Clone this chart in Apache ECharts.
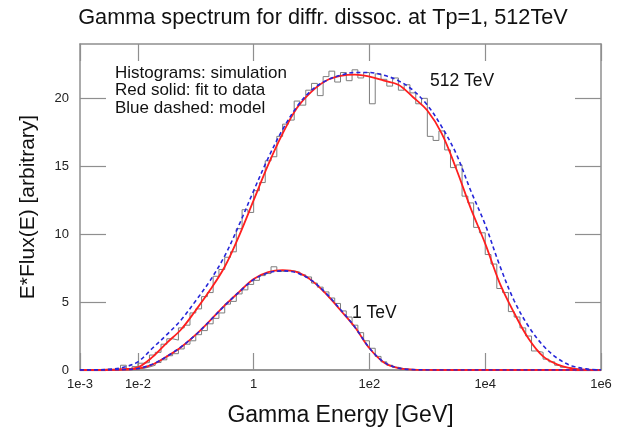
<!DOCTYPE html>
<html>
<head>
<meta charset="utf-8">
<script src="https://cdn.jsdelivr.net/npm/echarts@6/dist/echarts.min.js"></script>
<style>
  html, body { margin: 0; padding: 0; background: #fff; }
  #chart { width: 618px; height: 427px; }
</style>
</head>
<body>
<div id="chart"></div>
<script>
// Smooth curves sampled on a log10(E / GeV) grid
const curveExp = [-3, -2.75, -2.5, -2.25, -2, -1.75, -1.5, -1.25, -1, -0.75, -0.5, -0.25,
  0, 0.25, 0.5, 0.75, 1, 1.25, 1.5, 1.75, 2, 2.25, 2.5, 2.75,
  3, 3.25, 3.5, 3.75, 4, 4.25, 4.5, 4.75, 5, 5.25, 5.5, 5.75, 6];

// Tp = 512 TeV
const fit512 = [0, 0, 0.02, 0.06, 0.2, 0.95, 2.0, 3.0, 4.4, 5.9, 7.6, 9.9,
  12.5, 15.1, 17.4, 19.3, 20.5, 21.3, 21.65, 21.75, 21.6, 21.3, 21.0, 20.1,
  19.1, 17.4, 14.8, 11.9, 9.3, 6.4, 4.2, 2.3, 1.0, 0.4, 0.12, 0.02, 0];
const model512 = [0, 0.01, 0.05, 0.2, 0.6, 1.6, 2.6, 3.7, 5.1, 6.6, 8.4, 10.7,
  13.2, 15.6, 17.7, 19.4, 20.6, 21.3, 21.7, 21.9, 21.9, 21.7, 21.3, 20.6,
  19.5, 17.9, 15.9, 13.2, 10.7, 7.7, 5.1, 3.2, 1.8, 0.85, 0.3, 0.08, 0.01];

// Tp = 1 TeV
const fit1 = [0, 0, 0.01, 0.03, 0.1, 0.4, 1.0, 1.7, 2.6, 3.65, 4.75, 5.75,
  6.7, 7.2, 7.35, 7.2, 6.6, 5.6, 4.4, 3.15, 1.6, 0.55, 0.13, 0.03,
  0.005, 0, 0, 0, 0, 0, 0, 0, 0, 0, 0, 0, 0];
const model1 = [0, 0, 0.01, 0.03, 0.11, 0.42, 1.0, 1.72, 2.6, 3.65, 4.75, 5.75,
  6.65, 7.15, 7.3, 7.15, 6.6, 5.65, 4.45, 3.15, 1.62, 0.58, 0.14, 0.03,
  0.005, 0, 0, 0, 0, 0, 0, 0, 0, 0, 0, 0, 0];

// Simulated histograms: bins of 0.1 in log10(E), first bin starts at 1e-3 GeV
const histStartExp = -3;
const histBinExp = 0.1;
const sim512 = [
  0, 0, 0, 0.03, 0.05, 0.02, 0.06, 0.35, 0.1, 0.25,
  0.5, 0.55, 1.1, 1.3, 1.9, 2.3, 2.2, 3.1, 3.3, 4.2,
  4.5, 5.4, 5.7, 6.9, 7.4, 8.3, 8.7, 10.4, 11.8, 11.6,
  13.2, 13.8, 15.4, 15.7, 17.2, 18.1, 18.4, 19.8, 19.5, 20.6,
  21.1, 20.2, 21.6, 22.0, 21.2, 21.9, 21.3, 22.1, 21.5, 21.9,
  19.6, 21.8, 21.4, 20.9, 21.5, 20.6, 21.0, 20.4, 19.6, 20.0,
  17.2, 16.9, 17.6, 16.2, 14.9, 15.1, 12.8, 12.3, 10.5, 10.1,
  8.5, 7.8, 6.0, 5.7, 4.3, 3.9, 3.1, 2.5, 1.4, 1.3,
  0.8, 0.6, 0.35, 0.2, 0.15, 0.05, 0.03, 0, 0, 0];
const sim1 = [
  0, 0, 0, 0, 0, 0.02, 0.02, 0.03, 0.05, 0.07,
  0.12, 0.22, 0.35, 0.55, 0.75, 1.05, 1.2, 1.55, 1.9, 2.15,
  2.6, 2.9, 3.4, 3.8, 4.2, 4.85, 5.05, 5.6, 5.9, 6.3,
  6.6, 6.95, 7.1, 7.6, 7.25, 7.3, 7.3, 7.2, 7.0, 6.85,
  6.4, 6.1, 5.75, 5.3, 4.9, 4.35, 3.9, 3.3, 2.75, 2.15,
  1.6, 1.0, 0.6, 0.35, 0.2, 0.1, 0.05, 0.02, 0, 0,
  0, 0, 0, 0, 0, 0, 0, 0, 0, 0,
  0, 0, 0, 0, 0, 0, 0, 0, 0, 0,
  0, 0, 0, 0, 0, 0, 0, 0, 0, 0];

// Energy axis: decade exponents that carry a tick, and the plotted range
const xTickExp = [-3, -2, 0, 2, 4, 6];
const xMinExp = -3;
const xMaxExp = 6;
const yTickValues = [0, 5, 10, 15, 20];

const FONT = "'Liberation Sans', Arial, Helvetica, sans-serif";
const AXIS_GRAY = '#8f8f8f';
const HIST_GRAY = '#7d7d7d';
const RED = '#ff1f1f';
const BLUE = '#2626d9';

const toE = e => Math.pow(10, e);
const curvePoints = vals => curveExp.map((e, i) => [toE(e), vals[i]]);
const histPoints = vals => {
  const pts = vals.map((v, i) => [toE(histStartExp + i * histBinExp), v]);
  pts.push([toE(histStartExp + vals.length * histBinExp), vals[vals.length - 1]]);
  return pts;
};

// Log energy axis used by the series (line and name only)
const xLog = {
  type: 'log', logBase: 10, min: toE(xMinExp), max: toE(xMaxExp), position: 'bottom',
  axisLine: { show: true, onZero: false, lineStyle: { color: AXIS_GRAY, width: 1.5 } },
  axisTick: { show: false }, axisLabel: { show: false },
  splitLine: { show: false }, minorTick: { show: false },
  name: 'Gamma Energy [GeV]', nameLocation: 'middle', nameGap: 34,
  nameTextStyle: { fontSize: 23, color: '#111', fontFamily: FONT }
};
// Decade tick rulers laid over the same span, in exponent units
function decadeAxis(position, showLabels) {
  return {
    type: 'value', min: xMinExp, max: xMaxExp, position,
    axisLine: { show: true, onZero: false, lineStyle: { color: AXIS_GRAY, width: 1.5 } },
    axisTick: { show: true, inside: true, length: 17, customValues: xTickExp,
      lineStyle: { color: AXIS_GRAY, width: 1.2 } },
    axisLabel: { show: showLabels, customValues: xTickExp,
      formatter: n => (n === 0 ? '1' : '1e' + n),
      color: '#222', fontSize: 13, fontFamily: FONT, margin: 8 },
    splitLine: { show: false }
  };
}
function yAxisDef(position, showLabels) {
  return {
    type: 'value', min: 0, max: 24, position,
    axisLine: { show: true, onZero: false, lineStyle: { color: AXIS_GRAY, width: 1.5 } },
    axisTick: { show: true, inside: true, length: 26, customValues: yTickValues,
      lineStyle: { color: AXIS_GRAY, width: 1.2 } },
    axisLabel: { show: showLabels, customValues: yTickValues,
      color: '#222', fontSize: 13, fontFamily: FONT, margin: 11 },
    splitLine: { show: false }
  };
}

const yLeft = yAxisDef('left', true);
yLeft.name = 'E*Flux(E) [arbitrary]';
yLeft.nameLocation = 'middle';
yLeft.nameGap = 41;
yLeft.nameTextStyle = { fontSize: 21, color: '#111', fontFamily: FONT };

const lineBase = { type: 'line', xAxisIndex: 0, yAxisIndex: 0, showSymbol: false,
  symbol: 'none', silent: true, animation: false };

const option = {
  animation: false,
  backgroundColor: '#fff',
  textStyle: { fontFamily: FONT },
  grid: { left: 80, right: 17, top: 44, bottom: 57, containLabel: false, outerBoundsMode: 'none' },
  xAxis: [xLog, decadeAxis('bottom', true), decadeAxis('top', false)],
  yAxis: [yLeft, yAxisDef('right', false)],
  series: [
    Object.assign({}, lineBase, { name: 'sim 512 TeV', step: 'end', data: histPoints(sim512),
      lineStyle: { color: HIST_GRAY, width: 1 } }),
    Object.assign({}, lineBase, { name: 'sim 1 TeV', step: 'end', data: histPoints(sim1),
      lineStyle: { color: HIST_GRAY, width: 1 } }),
    Object.assign({}, lineBase, { name: 'fit 512 TeV', smooth: 0.35, data: curvePoints(fit512),
      lineStyle: { color: RED, width: 1.8 } }),
    Object.assign({}, lineBase, { name: 'fit 1 TeV', smooth: 0.35, data: curvePoints(fit1),
      lineStyle: { color: RED, width: 1.8 } }),
    Object.assign({}, lineBase, { name: 'model 512 TeV', smooth: 0.35, data: curvePoints(model512),
      lineStyle: { color: BLUE, width: 1.6, type: [4, 3] } }),
    Object.assign({}, lineBase, { name: 'model 1 TeV', smooth: 0.35, data: curvePoints(model1),
      lineStyle: { color: BLUE, width: 1.6, type: [4, 3] } })
  ],
  graphic: [
    { type: 'text', x: 323, y: 18,
      style: { text: 'Gamma spectrum for diffr. dissoc. at Tp=1, 512TeV', fontSize: 21.7,
        fontFamily: FONT, fill: '#111', align: 'center', verticalAlign: 'middle' } },
    { type: 'text', x: 115, y: 73,
      style: { text: 'Histograms: simulation', fontSize: 17, fontFamily: FONT, fill: '#111',
        verticalAlign: 'middle' } },
    { type: 'text', x: 115, y: 90,
      style: { text: 'Red solid: fit to data', fontSize: 17, fontFamily: FONT, fill: '#111',
        verticalAlign: 'middle' } },
    { type: 'text', x: 115, y: 108,
      style: { text: 'Blue dashed: model', fontSize: 17, fontFamily: FONT, fill: '#111',
        verticalAlign: 'middle' } },
    { type: 'text', x: 430, y: 81,
      style: { text: '512 TeV', fontSize: 17.5, fontFamily: FONT, fill: '#111',
        verticalAlign: 'middle' } },
    { type: 'text', x: 352, y: 313,
      style: { text: '1 TeV', fontSize: 17.5, fontFamily: FONT, fill: '#111',
        verticalAlign: 'middle' } }
  ]
};

const chart = echarts.init(document.getElementById('chart'), null, { renderer: 'canvas' });
chart.setOption(option);
</script>
</body>
</html>
